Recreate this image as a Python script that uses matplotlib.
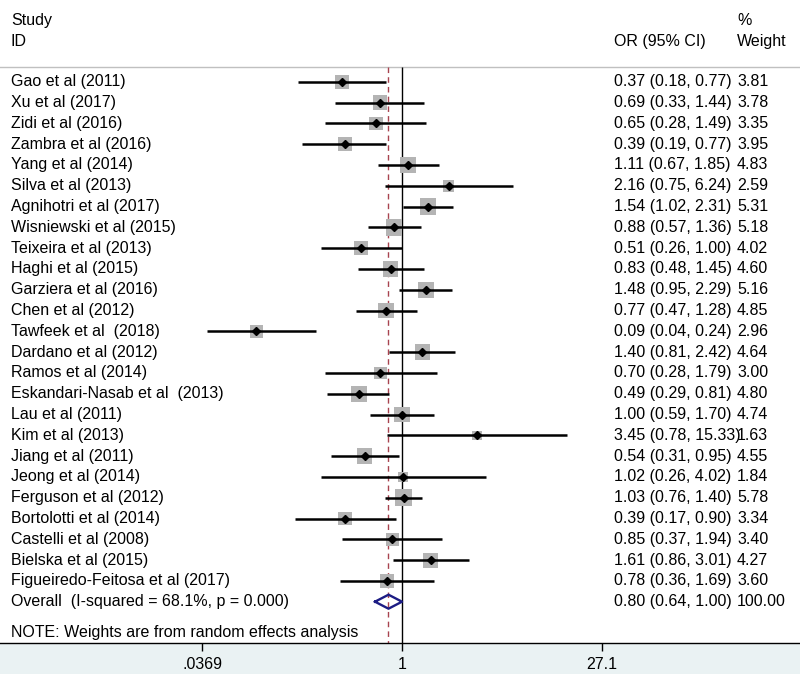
import numpy as np
import matplotlib
matplotlib.use("Agg")
import matplotlib.pyplot as plt
import matplotlib.transforms as mtransforms

plt.rcParams['font.family'] = ['Liberation Sans', 'DejaVu Sans']

# ---- datos ----
studies = ["Gao et al (2011)", "Xu et al (2017)", "Zidi et al (2016)", "Zambra et al (2016)",
           "Yang et al (2014)", "Silva et al (2013)", "Agnihotri et al (2017)",
           "Wisniewski et al (2015)", "Teixeira et al (2013)", "Haghi et al (2015)",
           "Garziera et al (2016)", "Chen et al (2012)", "Tawfeek et al  (2018)",
           "Dardano et al (2012)", "Ramos et al (2014)", "Eskandari-Nasab et al  (2013)",
           "Lau et al (2011)", "Kim et al (2013)", "Jiang et al (2011)", "Jeong et al (2014)",
           "Ferguson et al (2012)", "Bortolotti et al (2014)", "Castelli et al (2008)",
           "Bielska et al (2015)", "Figueiredo-Feitosa et al (2017)"]
odds = [0.37, 0.69, 0.65, 0.39, 1.11, 2.16, 1.54, 0.88, 0.51, 0.83, 1.48, 0.77, 0.09,
        1.40, 0.70, 0.49, 1.00, 3.45, 0.54, 1.02, 1.03, 0.39, 0.85, 1.61, 0.78]
lower = [0.18, 0.33, 0.28, 0.19, 0.67, 0.75, 1.02, 0.57, 0.26, 0.48, 0.95, 0.47, 0.04,
         0.81, 0.28, 0.29, 0.59, 0.78, 0.31, 0.26, 0.76, 0.17, 0.37, 0.86, 0.36]
upper = [0.77, 1.44, 1.49, 0.77, 1.85, 6.24, 2.31, 1.36, 1.00, 1.45, 2.29, 1.28, 0.24,
         2.42, 1.79, 0.81, 1.70, 15.33, 0.95, 4.02, 1.40, 0.90, 1.94, 3.01, 1.69]
weights = [3.81, 3.78, 3.35, 3.95, 4.83, 2.59, 5.31, 5.18, 4.02, 4.60, 5.16, 4.85, 2.96,
           4.64, 3.00, 4.80, 4.74, 1.63, 4.55, 1.84, 5.78, 3.34, 3.40, 4.27, 3.60]

overall_label = "Overall  (I-squared = 68.1%, p = 0.000)"
overall_or, overall_lo, overall_hi, overall_w = 0.80, 0.64, 1.00, 100.00
note = "NOTE: Weights are from random effects analysis"

tick_vals = [0.0369, 1, 27.1]
tick_labels = [".0369", "1", "27.1"]

# ---- figura ----
fig = plt.figure(figsize=(8, 6.74), dpi=100, facecolor='#EAF2F3')
ax = fig.add_axes([0, 31/674, 1, 643/674])
ax.set_facecolor('white')
ax.set_xscale('log')
ax.set_xlim(np.exp(-402/60.5), np.exp((800-402)/60.5))
y_top, y_bot = -81.7/20.8, (643-81.7)/20.8
ax.set_ylim(y_bot, y_top)

n = len(studies)
rows = np.arange(n)
y_header = -14.7/20.8

# lineas de referencia
ax.axhline(y_header, color='#C0C0C0', lw=1)
ax.vlines(1, y_header, y_bot, color='black', lw=1)
ax.vlines(overall_or, y_header, y_bot, color='#A8434F', lw=1, linestyles=(0, (4, 3)))

# estudios
ax.scatter(odds, rows, marker='s', s=np.array(weights)*27, color='#B4B4B4', zorder=2, lw=0)
ax.hlines(rows, lower, upper, color='black', lw=1.8, zorder=3)
ax.plot(odds, rows, 'D', color='black', ms=4, zorder=4)

# diamante global
yo = n
h = 7/20.8
ax.plot([overall_lo, overall_or, overall_hi, overall_or, overall_lo],
        [yo, yo - h, yo, yo + h, yo], color='#1C1C84', lw=1.7, zorder=4)

# textos
tr = mtransforms.blended_transform_factory(ax.transAxes, ax.transData)
fs = 11.5
x_lab, x_or, x_w = 11/800, 614/800, 737/800
ax.text(x_lab, -2.92, "Study", transform=tr, fontsize=fs, va='center')
ax.text(x_lab, -1.94, "ID", transform=tr, fontsize=fs, va='center')
ax.text(x_or, -1.94, "OR (95% CI)", transform=tr, fontsize=fs, va='center')
ax.text(x_w, -2.92, "%", transform=tr, fontsize=fs, va='center')
ax.text(x_w, -1.94, "Weight", transform=tr, fontsize=fs, va='center')

for i in range(n):
    ax.text(x_lab, i, studies[i], transform=tr, fontsize=fs, va='center')
    ax.text(x_or, i, "%.2f (%.2f, %.2f)" % (odds[i], lower[i], upper[i]),
            transform=tr, fontsize=fs, va='center')
    ax.text(x_w, i, "%.2f" % weights[i], transform=tr, fontsize=fs, va='center')

ax.text(x_lab, yo, overall_label, transform=tr, fontsize=fs, va='center')
ax.text(x_or, yo, "%.2f (%.2f, %.2f)" % (overall_or, overall_lo, overall_hi),
        transform=tr, fontsize=fs, va='center')
ax.text(x_w, yo, "%.2f" % overall_w, transform=tr, fontsize=fs, va='center')
ax.text(x_lab, 26.46, note, transform=tr, fontsize=fs, va='center')

# ejes
for s in ['top', 'left', 'right']:
    ax.spines[s].set_visible(False)
ax.spines['bottom'].set_linewidth(1)
ax.set_yticks([])
ax.set_xticks(tick_vals)
ax.set_xticklabels(tick_labels)
ax.xaxis.set_minor_locator(matplotlib.ticker.NullLocator())
ax.tick_params(axis='x', length=6, width=1, pad=4, labelsize=fs)

fig.savefig("out.png", dpi=100, facecolor=fig.get_facecolor())
